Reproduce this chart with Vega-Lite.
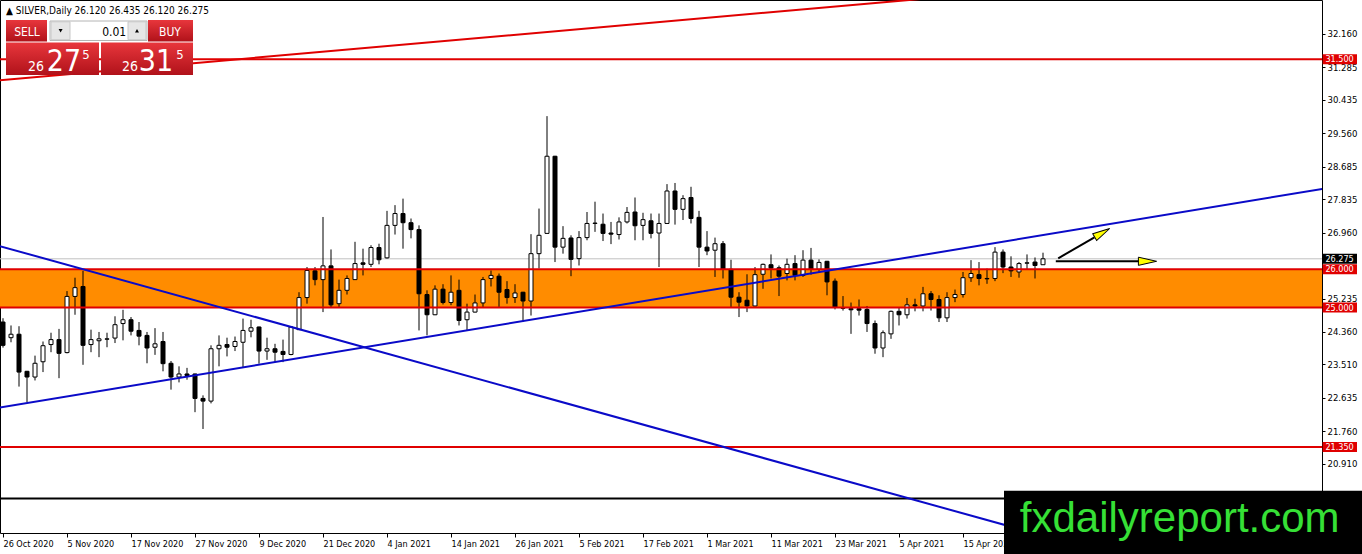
{
  "$schema": "https://vega.github.io/schema/vega-lite/v6.json",
  "width": 1322,
  "height": 533,
  "autosize": {"type": "none"},
  "padding": {"left": 0, "top": 0, "right": 40, "bottom": 21},
  "background": "white",
  "config": {
    "view": {"stroke": "black", "strokeWidth": 1},
    "text": {"font": "DejaVu Sans Condensed"}
  },
  "resolve": {"axis": {"x": "independent", "y": "independent"}},
  "datasets": {
    "candles": [
      {"i":0,"o":24.62,"h":24.72,"l":23.95,"c":24.01},
      {"i":1,"o":24.21,"h":24.53,"l":24.09,"c":24.30},
      {"i":2,"o":24.30,"h":24.51,"l":22.93,"c":23.31},
      {"i":3,"o":23.33,"h":23.34,"l":22.52,"c":23.18},
      {"i":4,"o":23.18,"h":23.74,"l":23.09,"c":23.54},
      {"i":5,"o":23.58,"h":24.11,"l":23.31,"c":24.00},
      {"i":6,"o":24.03,"h":24.34,"l":23.83,"c":24.16},
      {"i":7,"o":24.16,"h":24.44,"l":23.15,"c":23.80},
      {"i":8,"o":23.82,"h":25.43,"l":23.80,"c":25.29},
      {"i":9,"o":25.29,"h":25.78,"l":24.81,"c":25.52},
      {"i":10,"o":25.55,"h":25.96,"l":23.50,"c":24.01},
      {"i":11,"o":24.03,"h":24.42,"l":23.83,"c":24.16},
      {"i":12,"o":24.13,"h":24.36,"l":23.70,"c":24.18},
      {"i":13,"o":24.17,"h":24.34,"l":23.96,"c":24.18},
      {"i":14,"o":24.20,"h":24.77,"l":24.07,"c":24.55},
      {"i":15,"o":24.58,"h":24.94,"l":24.14,"c":24.68},
      {"i":16,"o":24.68,"h":24.75,"l":24.27,"c":24.38},
      {"i":17,"o":24.40,"h":24.62,"l":24.01,"c":24.25},
      {"i":18,"o":24.27,"h":24.36,"l":23.54,"c":23.94},
      {"i":19,"o":23.96,"h":24.46,"l":23.76,"c":24.05},
      {"i":20,"o":24.11,"h":24.36,"l":23.33,"c":23.53},
      {"i":21,"o":23.54,"h":23.60,"l":22.85,"c":23.18},
      {"i":22,"o":23.18,"h":23.46,"l":23.04,"c":23.26},
      {"i":23,"o":23.26,"h":23.42,"l":23.11,"c":23.22},
      {"i":24,"o":23.26,"h":23.27,"l":22.26,"c":22.62},
      {"i":25,"o":22.62,"h":22.70,"l":21.82,"c":22.55},
      {"i":26,"o":22.55,"h":24.01,"l":22.49,"c":23.92},
      {"i":27,"o":23.92,"h":24.27,"l":23.46,"c":24.01},
      {"i":28,"o":24.03,"h":24.21,"l":23.72,"c":23.96},
      {"i":29,"o":23.98,"h":24.24,"l":23.86,"c":24.11},
      {"i":30,"o":24.09,"h":24.71,"l":23.44,"c":24.40},
      {"i":31,"o":24.38,"h":24.68,"l":24.22,"c":24.47},
      {"i":32,"o":24.49,"h":24.50,"l":23.53,"c":23.86},
      {"i":33,"o":23.86,"h":24.21,"l":23.63,"c":23.92},
      {"i":34,"o":23.92,"h":24.05,"l":23.57,"c":23.83},
      {"i":35,"o":23.85,"h":24.16,"l":23.57,"c":23.77},
      {"i":36,"o":23.77,"h":24.50,"l":23.75,"c":24.49},
      {"i":37,"o":24.42,"h":25.40,"l":24.41,"c":25.26},
      {"i":38,"o":25.26,"h":26.06,"l":25.10,"c":25.97},
      {"i":39,"o":25.96,"h":26.06,"l":25.58,"c":25.73},
      {"i":40,"o":25.73,"h":27.37,"l":24.88,"c":26.09},
      {"i":41,"o":26.09,"h":26.52,"l":25.00,"c":25.07},
      {"i":42,"o":25.10,"h":25.73,"l":25.00,"c":25.45},
      {"i":43,"o":25.45,"h":25.84,"l":25.34,"c":25.76},
      {"i":44,"o":25.73,"h":26.72,"l":25.72,"c":26.15},
      {"i":45,"o":26.17,"h":26.54,"l":25.84,"c":26.13},
      {"i":46,"o":26.13,"h":26.63,"l":26.06,"c":26.57},
      {"i":47,"o":26.57,"h":26.67,"l":26.13,"c":26.25},
      {"i":48,"o":26.30,"h":27.53,"l":26.28,"c":27.15},
      {"i":49,"o":27.15,"h":27.68,"l":26.91,"c":27.46},
      {"i":50,"o":27.46,"h":27.85,"l":26.54,"c":27.22},
      {"i":51,"o":27.22,"h":27.33,"l":26.81,"c":27.04},
      {"i":52,"o":27.04,"h":27.15,"l":24.40,"c":25.36},
      {"i":53,"o":25.34,"h":25.45,"l":24.27,"c":24.81},
      {"i":54,"o":24.81,"h":25.58,"l":24.80,"c":25.48},
      {"i":55,"o":25.48,"h":25.61,"l":25.08,"c":25.13},
      {"i":56,"o":25.13,"h":25.84,"l":25.06,"c":25.40},
      {"i":57,"o":25.45,"h":25.73,"l":24.53,"c":24.66},
      {"i":58,"o":24.68,"h":25.10,"l":24.40,"c":24.88},
      {"i":59,"o":24.88,"h":25.34,"l":24.87,"c":25.12},
      {"i":60,"o":25.12,"h":25.80,"l":25.01,"c":25.73},
      {"i":61,"o":25.76,"h":25.97,"l":25.55,"c":25.84},
      {"i":62,"o":25.82,"h":25.89,"l":25.01,"c":25.40},
      {"i":63,"o":25.47,"h":25.69,"l":25.10,"c":25.26},
      {"i":64,"o":25.26,"h":25.61,"l":25.12,"c":25.38},
      {"i":65,"o":25.40,"h":25.41,"l":24.62,"c":25.17},
      {"i":66,"o":25.17,"h":26.92,"l":24.79,"c":26.41},
      {"i":67,"o":26.41,"h":27.59,"l":26.02,"c":26.89},
      {"i":68,"o":26.94,"h":30.01,"l":26.93,"c":28.96},
      {"i":69,"o":28.96,"h":28.97,"l":26.19,"c":26.58},
      {"i":70,"o":26.58,"h":27.13,"l":26.41,"c":26.81},
      {"i":71,"o":26.82,"h":26.89,"l":25.82,"c":26.26},
      {"i":72,"o":26.28,"h":27.00,"l":26.10,"c":26.83},
      {"i":73,"o":26.83,"h":27.50,"l":26.76,"c":27.20},
      {"i":74,"o":27.20,"h":27.77,"l":26.98,"c":27.21},
      {"i":75,"o":27.18,"h":27.46,"l":26.74,"c":26.94},
      {"i":76,"o":26.95,"h":27.24,"l":26.66,"c":26.92},
      {"i":77,"o":26.91,"h":27.36,"l":26.78,"c":27.24},
      {"i":78,"o":27.24,"h":27.63,"l":27.20,"c":27.49},
      {"i":79,"o":27.50,"h":27.88,"l":26.76,"c":27.14},
      {"i":80,"o":27.15,"h":27.48,"l":26.76,"c":27.30},
      {"i":81,"o":27.27,"h":27.46,"l":26.81,"c":26.94},
      {"i":82,"o":26.95,"h":27.46,"l":26.06,"c":27.20},
      {"i":83,"o":27.20,"h":28.23,"l":27.19,"c":28.05},
      {"i":84,"o":28.05,"h":28.26,"l":27.17,"c":27.57},
      {"i":85,"o":27.57,"h":27.94,"l":27.29,"c":27.85},
      {"i":86,"o":27.88,"h":28.16,"l":27.20,"c":27.33},
      {"i":87,"o":27.36,"h":27.53,"l":26.06,"c":26.58},
      {"i":88,"o":26.58,"h":27.00,"l":26.37,"c":26.48},
      {"i":89,"o":26.50,"h":26.83,"l":25.80,"c":26.67},
      {"i":90,"o":26.67,"h":26.74,"l":25.76,"c":26.00},
      {"i":91,"o":26.00,"h":26.25,"l":25.00,"c":25.27},
      {"i":92,"o":25.27,"h":25.40,"l":24.75,"c":25.14},
      {"i":93,"o":25.19,"h":25.87,"l":24.88,"c":25.04},
      {"i":94,"o":25.04,"h":26.06,"l":25.03,"c":25.86},
      {"i":95,"o":25.87,"h":26.15,"l":25.49,"c":26.13},
      {"i":96,"o":26.12,"h":26.39,"l":25.76,"c":26.03},
      {"i":97,"o":26.04,"h":26.10,"l":25.30,"c":25.82},
      {"i":98,"o":25.89,"h":26.28,"l":25.71,"c":26.13},
      {"i":99,"o":26.15,"h":26.37,"l":25.71,"c":25.84},
      {"i":100,"o":25.84,"h":26.50,"l":25.80,"c":26.24},
      {"i":101,"o":26.24,"h":26.56,"l":25.86,"c":26.00},
      {"i":102,"o":26.00,"h":26.26,"l":25.91,"c":26.18},
      {"i":103,"o":26.21,"h":26.22,"l":25.32,"c":25.67},
      {"i":104,"o":25.69,"h":25.76,"l":24.95,"c":25.01},
      {"i":105,"o":24.99,"h":25.30,"l":24.92,"c":24.98},
      {"i":106,"o":24.97,"h":25.13,"l":24.31,"c":24.94},
      {"i":107,"o":24.97,"h":25.21,"l":24.79,"c":24.93},
      {"i":108,"o":24.95,"h":25.04,"l":24.36,"c":24.58},
      {"i":109,"o":24.58,"h":24.66,"l":23.79,"c":23.94},
      {"i":110,"o":23.94,"h":24.40,"l":23.70,"c":24.34},
      {"i":111,"o":24.31,"h":24.92,"l":24.18,"c":24.90},
      {"i":112,"o":24.90,"h":25.01,"l":24.53,"c":24.81},
      {"i":113,"o":24.81,"h":25.25,"l":24.71,"c":25.07},
      {"i":114,"o":25.07,"h":25.23,"l":24.90,"c":25.04},
      {"i":115,"o":25.04,"h":25.54,"l":24.90,"c":25.36},
      {"i":116,"o":25.36,"h":25.43,"l":24.92,"c":25.21},
      {"i":117,"o":25.21,"h":25.32,"l":24.62,"c":24.73},
      {"i":118,"o":24.73,"h":25.40,"l":24.62,"c":25.26},
      {"i":119,"o":25.26,"h":25.47,"l":25.14,"c":25.34},
      {"i":120,"o":25.34,"h":25.93,"l":25.26,"c":25.78},
      {"i":121,"o":25.78,"h":26.24,"l":25.67,"c":25.89},
      {"i":122,"o":25.86,"h":26.19,"l":25.58,"c":25.76},
      {"i":123,"o":25.76,"h":26.02,"l":25.62,"c":25.75},
      {"i":124,"o":25.76,"h":26.58,"l":25.69,"c":26.45},
      {"i":125,"o":26.45,"h":26.52,"l":25.90,"c":26.06},
      {"i":126,"o":26.06,"h":26.34,"l":25.80,"c":25.96},
      {"i":127,"o":25.93,"h":26.19,"l":25.78,"c":26.15},
      {"i":128,"o":26.16,"h":26.39,"l":25.99,"c":26.17},
      {"i":129,"o":26.19,"h":26.31,"l":25.76,"c":26.10},
      {"i":130,"o":26.12,"h":26.435,"l":26.12,"c":26.275}
    ],
    "band": [{"lo": 25, "hi": 26}],
    "bid": [{"p": 26.275}],
    "redlevels": [{"p": 31.5}, {"p": 26}, {"p": 25}, {"p": 21.35}],
    "blacklevels": [{"p": 20.0}],
    "redtrend": [{"i1": -1, "p1": 30.937, "i2": 116, "p2": 33.1}],
    "bluetrend": [
      {"i1": -1, "p1": 26.642, "i2": 166, "p2": 16.938},
      {"i1": -1, "p1": 22.36, "i2": 166, "p2": 28.141}
    ],
    "arrowlines": [
      {"i1": 131.9, "p1": 26.288, "i2": 136.43, "p2": 26.838},
      {"i1": 131.6, "p1": 26.21, "i2": 142.2, "p2": 26.21}
    ],
    "arrowdiag": [{"i": 137.4, "p": 26.955}],
    "arrowflat": [{"i": 143.06, "p": 26.21}],
    "redtags": [
      {"p": 31.5, "t": "31.500"},
      {"p": 26, "t": "26.000"},
      {"p": 25, "t": "25.000"},
      {"p": 21.35, "t": "21.350"}
    ],
    "blacktags": [{"p": 26.275, "t": "26.275"}],
    "panelred": [
      {"x1": 0.375, "x2": 5.5, "y1": 31.963, "y2": 32.526},
      {"x1": 18.125, "x2": 23.75, "y1": 31.963, "y2": 32.526},
      {"x1": 0.375, "x2": 12.0, "y1": 31.086, "y2": 31.937},
      {"x1": 12.25, "x2": 23.75, "y1": 31.086, "y2": 31.937}
    ],
    "spinfield": [{"x1": 5.875, "x2": 18.0, "y1": 31.99, "y2": 32.5}],
    "spinbtn": [
      {"x1": 6.0, "x2": 8.375, "y1": 32.01, "y2": 32.48},
      {"x1": 15.625, "x2": 17.875, "y1": 32.01, "y2": 32.48}
    ],
    "header": [{"i": 0.375, "p": 32.76, "t": "▲ SILVER,Daily  26.120 26.435 26.120 26.275"}],
    "watermark": [{"i1": 125.125, "i2": 171, "p1": 20.204, "p2": 18.0}],
    "watertext": [{"i": 127.1, "p": 19.12, "t": "fxdailyreport.com"}]
  },
  "layer": [
    {
      "data": {"name": "band"},
      "mark": {"type": "rect", "fill": "#ff8c00", "clip": true},
      "encoding": {
        "x": {"datum": -1, "type": "quantitative", "scale": {"domain": [-0.375, 164.875], "nice": false, "zero": false, "padding": 0}, "axis": null},
        "x2": {"datum": 166},
        "y": {"field": "lo", "type": "quantitative", "scale": {"domain": [19.097, 33.05], "nice": false, "zero": false, "padding": 0}, "axis": null},
        "y2": {"field": "hi"}
      }
    },
    {
      "data": {"name": "bid"},
      "mark": {"type": "rule", "stroke": "#c0c0c0", "strokeWidth": 1},
      "encoding": {
        "y": {"field": "p", "type": "quantitative", "scale": {"domain": [19.097, 33.05], "nice": false, "zero": false, "padding": 0}, "axis": null}
      }
    },
    {
      "data": {"name": "candles"},
      "mark": {"type": "rule", "stroke": "black", "strokeWidth": 1},
      "encoding": {
        "x": {
          "field": "i", "type": "quantitative",
          "scale": {"domain": [-0.375, 164.875], "nice": false, "zero": false, "padding": 0},
          "axis": {
            "orient": "bottom", "title": null, "grid": false, "domain": false,
            "values": [0, 8, 16, 24, 32, 40, 48, 56, 64, 72, 80, 88, 96, 104, 112, 120],
            "labelExpr": "['26 Oct 2020','5 Nov 2020','17 Nov 2020','27 Nov 2020','9 Dec 2020','21 Dec 2020','4 Jan 2021','14 Jan 2021','26 Jan 2021','5 Feb 2021','17 Feb 2021','1 Mar 2021','11 Mar 2021','23 Mar 2021','5 Apr 2021','15 Apr 2021'][round(datum.value/8)]",
            "tickSize": 4, "tickColor": "black", "labelAlign": "left", "labelBaseline": "top",
            "labelPadding": 2, "labelDx": 0, "labelFont": "DejaVu Sans Condensed", "labelFontSize": 9,
            "labelColor": "black", "labelFlush": false, "labelOverlap": false, "labelBound": false
          }
        },
        "y": {
          "field": "l", "type": "quantitative",
          "scale": {"domain": [19.097, 33.05], "nice": false, "zero": false, "padding": 0},
          "axis": {
            "orient": "right", "title": null, "grid": false, "domain": false,
            "values": [32.16, 31.285, 30.435, 29.56, 28.685, 27.835, 26.96, 25.235, 24.36, 23.51, 22.635, 21.76, 20.91],
            "format": ".3f", "tickSize": 3, "tickColor": "black", "labelPadding": 2,
            "labelFont": "DejaVu Sans Condensed", "labelFontSize": 9.5, "labelColor": "black",
            "labelBaseline": "middle", "labelFlush": false, "labelOverlap": false
          }
        },
        "y2": {"field": "h"}
      }
    },
    {
      "data": {"name": "candles"},
      "mark": {"type": "bar", "orient": "vertical", "size": 4, "stroke": "black", "strokeWidth": 1},
      "encoding": {
        "x": {"field": "i", "type": "quantitative", "scale": {"domain": [-0.375, 164.875], "nice": false, "zero": false, "padding": 0}, "axis": null},
        "y": {"field": "o", "type": "quantitative", "scale": {"domain": [19.097, 33.05], "nice": false, "zero": false, "padding": 0}, "axis": null},
        "y2": {"field": "c"},
        "fill": {"condition": {"test": "datum.c >= datum.o", "value": "white"}, "value": "black"}
      }
    },
    {
      "data": {"name": "redlevels"},
      "mark": {"type": "rule", "stroke": "#e00000", "strokeWidth": 2},
      "encoding": {
        "y": {"field": "p", "type": "quantitative", "scale": {"domain": [19.097, 33.05], "nice": false, "zero": false, "padding": 0}, "axis": null}
      }
    },
    {
      "data": {"name": "blacklevels"},
      "mark": {"type": "rule", "stroke": "black", "strokeWidth": 2},
      "encoding": {
        "y": {"field": "p", "type": "quantitative", "scale": {"domain": [19.097, 33.05], "nice": false, "zero": false, "padding": 0}, "axis": null}
      }
    },
    {
      "data": {"name": "redtrend"},
      "mark": {"type": "rule", "stroke": "#e00000", "strokeWidth": 2, "clip": true},
      "encoding": {
        "x": {"field": "i1", "type": "quantitative", "scale": {"domain": [-0.375, 164.875], "nice": false, "zero": false, "padding": 0}, "axis": null},
        "x2": {"field": "i2"},
        "y": {"field": "p1", "type": "quantitative", "scale": {"domain": [19.097, 33.05], "nice": false, "zero": false, "padding": 0}, "axis": null},
        "y2": {"field": "p2"}
      }
    },
    {
      "data": {"name": "bluetrend"},
      "mark": {"type": "rule", "stroke": "#0a0ac8", "strokeWidth": 2, "clip": true},
      "encoding": {
        "x": {"field": "i1", "type": "quantitative", "scale": {"domain": [-0.375, 164.875], "nice": false, "zero": false, "padding": 0}, "axis": null},
        "x2": {"field": "i2"},
        "y": {"field": "p1", "type": "quantitative", "scale": {"domain": [19.097, 33.05], "nice": false, "zero": false, "padding": 0}, "axis": null},
        "y2": {"field": "p2"}
      }
    },
    {
      "data": {"name": "arrowlines"},
      "mark": {"type": "rule", "stroke": "black", "strokeWidth": 2},
      "encoding": {
        "x": {"field": "i1", "type": "quantitative", "scale": {"domain": [-0.375, 164.875], "nice": false, "zero": false, "padding": 0}, "axis": null},
        "x2": {"field": "i2"},
        "y": {"field": "p1", "type": "quantitative", "scale": {"domain": [19.097, 33.05], "nice": false, "zero": false, "padding": 0}, "axis": null},
        "y2": {"field": "p2"}
      }
    },
    {
      "data": {"name": "arrowdiag"},
      "mark": {"type": "point", "shape": "M-1,-0.45L1,0L-1,0.45Z", "size": 300, "angle": 330, "filled": true, "fill": "#ffff00", "stroke": "black", "strokeWidth": 1, "opacity": 1},
      "encoding": {
        "x": {"field": "i", "type": "quantitative", "scale": {"domain": [-0.375, 164.875], "nice": false, "zero": false, "padding": 0}, "axis": null},
        "y": {"field": "p", "type": "quantitative", "scale": {"domain": [19.097, 33.05], "nice": false, "zero": false, "padding": 0}, "axis": null}
      }
    },
    {
      "data": {"name": "arrowflat"},
      "mark": {"type": "point", "shape": "M-1,-0.45L1,0L-1,0.45Z", "size": 330, "angle": 0, "filled": true, "fill": "#ffff00", "stroke": "black", "strokeWidth": 1, "opacity": 1},
      "encoding": {
        "x": {"field": "i", "type": "quantitative", "scale": {"domain": [-0.375, 164.875], "nice": false, "zero": false, "padding": 0}, "axis": null},
        "y": {"field": "p", "type": "quantitative", "scale": {"domain": [19.097, 33.05], "nice": false, "zero": false, "padding": 0}, "axis": null}
      }
    },
    {
      "data": {"name": "panelred"},
      "mark": {
        "type": "rect",
        "fill": {"gradient": "linear", "x1": 0, "y1": 0, "x2": 0, "y2": 1, "stops": [{"offset": 0, "color": "#e8363c"}, {"offset": 1, "color": "#b0121a"}]}
      },
      "encoding": {
        "x": {"field": "x1", "type": "quantitative", "scale": {"domain": [-0.375, 164.875], "nice": false, "zero": false, "padding": 0}, "axis": null},
        "x2": {"field": "x2"},
        "y": {"field": "y1", "type": "quantitative", "scale": {"domain": [19.097, 33.05], "nice": false, "zero": false, "padding": 0}, "axis": null},
        "y2": {"field": "y2"}
      }
    },
    {
      "data": {"name": "spinfield"},
      "mark": {"type": "rect", "fill": "white", "stroke": "#b4b4b4", "strokeWidth": 1},
      "encoding": {
        "x": {"field": "x1", "type": "quantitative", "scale": {"domain": [-0.375, 164.875], "nice": false, "zero": false, "padding": 0}, "axis": null},
        "x2": {"field": "x2"},
        "y": {"field": "y1", "type": "quantitative", "scale": {"domain": [19.097, 33.05], "nice": false, "zero": false, "padding": 0}, "axis": null},
        "y2": {"field": "y2"}
      }
    },
    {
      "data": {"name": "spinbtn"},
      "mark": {"type": "rect", "fill": "#e6e6e6", "stroke": "#c8c8c8", "strokeWidth": 1},
      "encoding": {
        "x": {"field": "x1", "type": "quantitative", "scale": {"domain": [-0.375, 164.875], "nice": false, "zero": false, "padding": 0}, "axis": null},
        "x2": {"field": "x2"},
        "y": {"field": "y1", "type": "quantitative", "scale": {"domain": [19.097, 33.05], "nice": false, "zero": false, "padding": 0}, "axis": null},
        "y2": {"field": "y2"}
      }
    },
    {
      "data": {"values": [{"i": 7.2, "p": 32.245, "s": "triangle-down"}, {"i": 16.75, "p": 32.245, "s": "triangle-up"}]},
      "mark": {"type": "point", "filled": true, "fill": "black", "size": 16, "opacity": 1},
      "encoding": {
        "x": {"field": "i", "type": "quantitative", "scale": {"domain": [-0.375, 164.875], "nice": false, "zero": false, "padding": 0}, "axis": null},
        "y": {"field": "p", "type": "quantitative", "scale": {"domain": [19.097, 33.05], "nice": false, "zero": false, "padding": 0}, "axis": null},
        "shape": {"field": "s", "type": "nominal", "scale": {"domain": ["triangle-down", "triangle-up"], "range": ["triangle-down", "triangle-up"]}, "legend": null}
      }
    },
    {
      "data": {"values": [{"i": 3.0, "p": 32.225, "t": "SELL"}, {"i": 20.875, "p": 32.225, "t": "BUY"}]},
      "mark": {"type": "text", "fill": "white", "fontSize": 12, "align": "center", "baseline": "middle", "font": "DejaVu Sans Condensed"},
      "encoding": {
        "x": {"field": "i", "type": "quantitative", "scale": {"domain": [-0.375, 164.875], "nice": false, "zero": false, "padding": 0}, "axis": null},
        "y": {"field": "p", "type": "quantitative", "scale": {"domain": [19.097, 33.05], "nice": false, "zero": false, "padding": 0}, "axis": null},
        "text": {"field": "t"}
      }
    },
    {
      "data": {"values": [{"i": 15.4, "p": 32.225, "t": "0.01"}]},
      "mark": {"type": "text", "fill": "black", "fontSize": 12, "align": "right", "baseline": "middle", "font": "DejaVu Sans Condensed"},
      "encoding": {
        "x": {"field": "i", "type": "quantitative", "scale": {"domain": [-0.375, 164.875], "nice": false, "zero": false, "padding": 0}, "axis": null},
        "y": {"field": "p", "type": "quantitative", "scale": {"domain": [19.097, 33.05], "nice": false, "zero": false, "padding": 0}, "axis": null},
        "text": {"field": "t"}
      }
    },
    {
      "data": {"values": [{"i": 4.125, "p": 31.3, "t": "26"}, {"i": 15.875, "p": 31.3, "t": "26"}]},
      "mark": {"type": "text", "fill": "white", "fontSize": 14, "align": "center", "baseline": "middle", "font": "DejaVu Sans Condensed"},
      "encoding": {
        "x": {"field": "i", "type": "quantitative", "scale": {"domain": [-0.375, 164.875], "nice": false, "zero": false, "padding": 0}, "axis": null},
        "y": {"field": "p", "type": "quantitative", "scale": {"domain": [19.097, 33.05], "nice": false, "zero": false, "padding": 0}, "axis": null},
        "text": {"field": "t"}
      }
    },
    {
      "data": {"values": [{"i": 7.625, "p": 31.44, "t": "27"}, {"i": 19.125, "p": 31.44, "t": "31"}]},
      "mark": {"type": "text", "fill": "white", "fontSize": 30, "align": "center", "baseline": "middle", "font": "DejaVu Sans Condensed"},
      "encoding": {
        "x": {"field": "i", "type": "quantitative", "scale": {"domain": [-0.375, 164.875], "nice": false, "zero": false, "padding": 0}, "axis": null},
        "y": {"field": "p", "type": "quantitative", "scale": {"domain": [19.097, 33.05], "nice": false, "zero": false, "padding": 0}, "axis": null},
        "text": {"field": "t"}
      }
    },
    {
      "data": {"values": [{"i": 10.375, "p": 31.62, "t": "5"}, {"i": 22.125, "p": 31.62, "t": "5"}]},
      "mark": {"type": "text", "fill": "white", "fontSize": 13, "align": "center", "baseline": "middle", "font": "DejaVu Sans Condensed"},
      "encoding": {
        "x": {"field": "i", "type": "quantitative", "scale": {"domain": [-0.375, 164.875], "nice": false, "zero": false, "padding": 0}, "axis": null},
        "y": {"field": "p", "type": "quantitative", "scale": {"domain": [19.097, 33.05], "nice": false, "zero": false, "padding": 0}, "axis": null},
        "text": {"field": "t"}
      }
    },
    {
      "data": {"name": "header"},
      "mark": {"type": "text", "fill": "black", "fontSize": 10, "align": "left", "baseline": "middle", "font": "DejaVu Sans Condensed"},
      "encoding": {
        "x": {"field": "i", "type": "quantitative", "scale": {"domain": [-0.375, 164.875], "nice": false, "zero": false, "padding": 0}, "axis": null},
        "y": {"field": "p", "type": "quantitative", "scale": {"domain": [19.097, 33.05], "nice": false, "zero": false, "padding": 0}, "axis": null},
        "text": {"field": "t"}
      }
    },
    {
      "data": {"name": "redtags"},
      "mark": {"type": "rule", "stroke": "#e00000", "strokeWidth": 10, "strokeCap": "butt"},
      "encoding": {
        "x": {"datum": 164.95, "type": "quantitative", "scale": {"domain": [-0.375, 164.875], "nice": false, "zero": false, "padding": 0}, "axis": null},
        "x2": {"datum": 169.25},
        "y": {"field": "p", "type": "quantitative", "scale": {"domain": [19.097, 33.05], "nice": false, "zero": false, "padding": 0}, "axis": null}
      }
    },
    {
      "data": {"name": "blacktags"},
      "mark": {"type": "rule", "stroke": "black", "strokeWidth": 10, "strokeCap": "butt"},
      "encoding": {
        "x": {"datum": 164.95, "type": "quantitative", "scale": {"domain": [-0.375, 164.875], "nice": false, "zero": false, "padding": 0}, "axis": null},
        "x2": {"datum": 169.25},
        "y": {"field": "p", "type": "quantitative", "scale": {"domain": [19.097, 33.05], "nice": false, "zero": false, "padding": 0}, "axis": null}
      }
    },
    {
      "data": {"name": "redtags"},
      "mark": {"type": "text", "fill": "white", "fontSize": 9, "align": "left", "baseline": "middle", "font": "DejaVu Sans Condensed"},
      "encoding": {
        "x": {"datum": 165.3, "type": "quantitative", "scale": {"domain": [-0.375, 164.875], "nice": false, "zero": false, "padding": 0}, "axis": null},
        "y": {"field": "p", "type": "quantitative", "scale": {"domain": [19.097, 33.05], "nice": false, "zero": false, "padding": 0}, "axis": null},
        "text": {"field": "t"}
      }
    },
    {
      "data": {"name": "blacktags"},
      "mark": {"type": "text", "fill": "white", "fontSize": 9, "align": "left", "baseline": "middle", "font": "DejaVu Sans Condensed"},
      "encoding": {
        "x": {"datum": 165.3, "type": "quantitative", "scale": {"domain": [-0.375, 164.875], "nice": false, "zero": false, "padding": 0}, "axis": null},
        "y": {"field": "p", "type": "quantitative", "scale": {"domain": [19.097, 33.05], "nice": false, "zero": false, "padding": 0}, "axis": null},
        "text": {"field": "t"}
      }
    },
    {
      "data": {"name": "watermark"},
      "mark": {"type": "rect", "fill": "black"},
      "encoding": {
        "x": {"field": "i1", "type": "quantitative", "scale": {"domain": [-0.375, 164.875], "nice": false, "zero": false, "padding": 0}, "axis": null},
        "x2": {"field": "i2"},
        "y": {"field": "p1", "type": "quantitative", "scale": {"domain": [19.097, 33.05], "nice": false, "zero": false, "padding": 0}, "axis": null},
        "y2": {"field": "p2"}
      }
    },
    {
      "data": {"name": "watertext"},
      "mark": {"type": "text", "fill": "#36e036", "fontSize": 42, "align": "left", "baseline": "alphabetic", "font": "Liberation Sans"},
      "encoding": {
        "x": {"field": "i", "type": "quantitative", "scale": {"domain": [-0.375, 164.875], "nice": false, "zero": false, "padding": 0}, "axis": null},
        "y": {"field": "p", "type": "quantitative", "scale": {"domain": [19.097, 33.05], "nice": false, "zero": false, "padding": 0}, "axis": null},
        "text": {"field": "t"}
      }
    }
  ]
}
